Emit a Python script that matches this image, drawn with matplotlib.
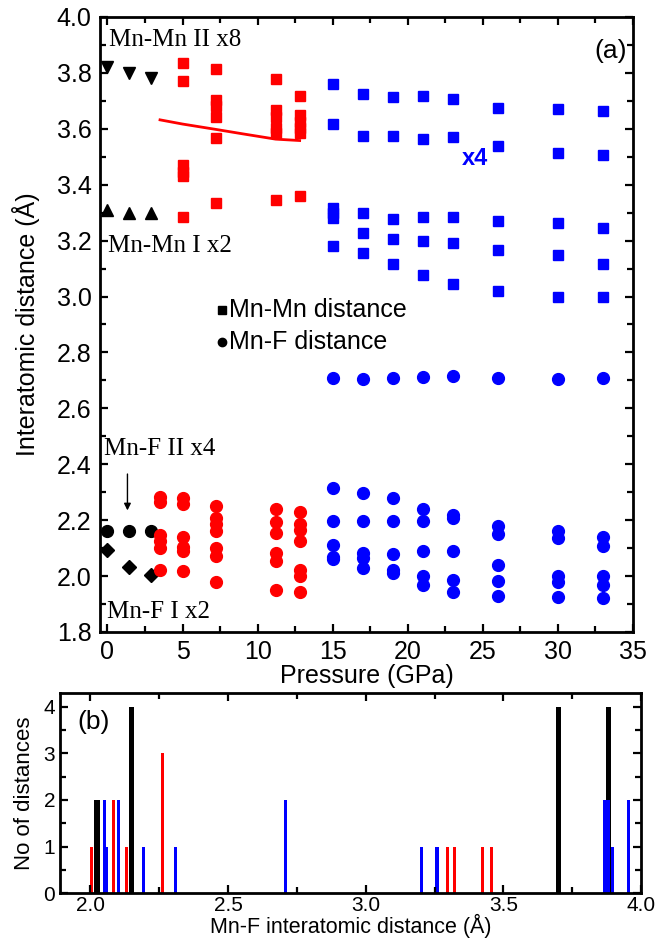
import numpy as np
import matplotlib
matplotlib.use('Agg')
import matplotlib.pyplot as plt
from matplotlib.ticker import MultipleLocator, FormatStrFormatter

plt.rcParams['font.family'] = ['Liberation Sans', 'DejaVu Sans']

# ---- panel (a) data ----
p_black = [0.0, 1.4, 2.9]
mnmn2_black = [3.82, 3.80, 3.78]
mnmn1_black = [3.31, 3.30, 3.30]
mnf2_black = [2.16, 2.16, 2.16]
mnf1_black = [2.095, 2.032, 2.003]

p_red_sq = [5.0, 7.2, 11.2, 12.8]
mnmn_red = [
    [3.835, 3.77, 3.47, 3.445, 3.43, 3.283],
    [3.814, 3.703, 3.682, 3.643, 3.566, 3.333],
    [3.777, 3.667, 3.643, 3.602, 3.584, 3.345],
    [3.717, 3.649, 3.625, 3.602, 3.584, 3.359],
]
p_red_line = [3.5, 5.0, 7.2, 9.0, 11.2, 12.8]
line_red = [3.632, 3.617, 3.598, 3.582, 3.563, 3.558]

p_red_ci = [3.5, 5.0, 7.2, 11.2, 12.8]
mnf_red = [
    [2.284, 2.266, 2.147, 2.124, 2.101, 2.021],
    [2.281, 2.258, 2.141, 2.105, 2.091, 2.019],
    [2.252, 2.209, 2.188, 2.161, 2.101, 2.073, 1.980],
    [2.240, 2.192, 2.153, 2.083, 2.055, 1.952],
    [2.230, 2.188, 2.165, 2.124, 2.023, 2.000, 1.942],
]

p_blue = [15, 17, 19, 21, 23, 26, 30, 33]
mnmn_blue = [
    [3.760, 3.616, 3.316, 3.298, 3.280, 3.181],
    [3.723, 3.574, 3.298, 3.226, 3.157],
    [3.715, 3.574, 3.277, 3.207, 3.116],
    [3.718, 3.565, 3.286, 3.197, 3.077],
    [3.707, 3.570, 3.286, 3.191, 3.044],
    [3.676, 3.537, 3.269, 3.166, 3.018],
    [3.670, 3.515, 3.263, 3.148, 2.998],
    [3.665, 3.506, 3.246, 3.116, 2.998],
]
mnf_blue = [
    [2.707, 2.314, 2.198, 2.111, 2.068, 2.060],
    [2.704, 2.298, 2.198, 2.083, 2.063, 2.030],
    [2.707, 2.280, 2.198, 2.079, 2.021, 2.010],
    [2.713, 2.240, 2.198, 2.089, 2.001, 1.968],
    [2.715, 2.218, 2.206, 2.089, 1.986, 1.942],
    [2.707, 2.180, 2.149, 2.039, 1.983, 1.930],
    [2.706, 2.161, 2.137, 2.000, 1.980, 1.926],
    [2.707, 2.141, 2.108, 2.000, 1.968, 1.920],
]

# ---- panel (b) data ----
black_pos = [2.024, 2.150, 3.701, 3.882]
black_cnt = [2, 4, 4, 4]
red_pos = [2.006, 2.085, 2.130, 2.262, 3.296, 3.322, 3.423, 3.457]
red_cnt = [1, 2, 1, 3, 1, 1, 1, 1]
blue_pos = [2.051, 2.059, 2.103, 2.192, 2.308, 2.708, 3.201, 3.259, 3.866, 3.880, 3.897, 3.956]
blue_cnt = [2, 1, 2, 1, 1, 2, 1, 1, 2, 2, 1, 2]

BLUE = '#0000ff'
RED = '#ff0000'

fig = plt.figure(figsize=(6.56, 9.43), dpi=100)
ax = fig.add_axes([0.1524, 0.3298, 0.8125, 0.6522])
ax2 = fig.add_axes([0.0915, 0.0530, 0.8857, 0.2121])


def style(a, size):
    for s in a.spines.values():
        s.set_linewidth(2)
    a.tick_params(which='both', direction='in', top=True, right=True,
                  width=1.6, labelsize=size)
    a.tick_params(which='major', length=6)
    a.tick_params(which='minor', length=4)


# panel (a)
ms_sq = 7.5
ms_ci = 8.5
ax.plot(p_black, mnmn2_black, 'v', color='k', ms=8.5, ls='none')
ax.plot(p_black, mnmn1_black, '^', color='k', ms=8.5, ls='none')
ax.plot(p_black, mnf2_black, 'o', color='k', ms=ms_ci, ls='none')
ax.plot(p_black, mnf1_black, 'D', color='k', ms=7, ls='none')

for p, vals in zip(p_red_sq, mnmn_red):
    ax.plot([p] * len(vals), vals, 's', color=RED, ms=ms_sq, ls='none')
for p, vals in zip(p_red_ci, mnf_red):
    ax.plot([p] * len(vals), vals, 'o', color=RED, ms=ms_ci, ls='none')
ax.plot(p_red_line, line_red, '-', color=RED, lw=2)

for p, vals in zip(p_blue, mnmn_blue):
    ax.plot([p] * len(vals), vals, 's', color=BLUE, ms=ms_sq, ls='none')
for p, vals in zip(p_blue, mnf_blue):
    ax.plot([p] * len(vals), vals, 'o', color=BLUE, ms=ms_ci, ls='none')

ax.set_xlim(-0.5, 35)
ax.set_ylim(1.8, 4.0)
ax.xaxis.set_major_locator(MultipleLocator(5))
ax.xaxis.set_minor_locator(MultipleLocator(2.5))
ax.yaxis.set_major_locator(MultipleLocator(0.2))
ax.yaxis.set_minor_locator(MultipleLocator(0.1))
ax.yaxis.set_major_formatter(FormatStrFormatter('%.1f'))
style(ax, 18)
ax.tick_params(axis='y', pad=6)
ax.tick_params(axis='x', pad=6)
ax.set_xlabel('Pressure (GPa)', fontsize=18, labelpad=0)
ax.set_ylabel('Interatomic distance (Å)', fontsize=18, labelpad=12)

serif = ['Liberation Serif', 'DejaVu Serif']
ax.text(0.1, 3.918, 'Mn-Mn II x8', family=serif, fontsize=18, va='center')
ax.text(0.05, 3.18, 'Mn-Mn I x2', family=serif, fontsize=18, va='center')
ax.text(-0.2, 2.454, 'Mn-F II x4', family=serif, fontsize=18, va='center')
ax.text(0.0, 1.871, 'Mn-F I x2', family=serif, fontsize=18, va='center')
ax.annotate('', xy=(1.33, 2.225), xytext=(1.33, 2.375),
            arrowprops=dict(arrowstyle='-|>', color='k', lw=1, mutation_scale=10))
ax.text(23.6, 3.495, 'x4', color=BLUE, fontsize=17, fontweight='bold', va='center')
ax.text(34.6, 3.878, '(a)', fontsize=19, ha='right', va='center')

ax.plot([7.6], [2.952], 's', color='k', ms=6)
ax.text(8.1, 2.952, 'Mn-Mn distance', fontsize=18, va='center')
ax.plot([7.6], [2.838], 'o', color='k', ms=6)
ax.text(8.1, 2.838, 'Mn-F distance', fontsize=18, va='center')

# panel (b)
ax2.bar(black_pos, black_cnt, width=0.02, color='k')
ax2.bar(red_pos, red_cnt, width=0.011, color=RED)
ax2.bar(blue_pos, blue_cnt, width=0.011, color=BLUE)
ax2.set_xlim(1.89, 4.0)
ax2.set_ylim(0, 4.3)
ax2.xaxis.set_major_locator(MultipleLocator(0.5))
ax2.xaxis.set_minor_locator(MultipleLocator(0.25))
ax2.yaxis.set_major_locator(MultipleLocator(1))
ax2.yaxis.set_minor_locator(MultipleLocator(0.5))
ax2.xaxis.set_major_formatter(FormatStrFormatter('%.1f'))
style(ax2, 15)
ax2.tick_params(axis='x', pad=2)
ax2.set_xlabel('Mn-F interatomic distance (Å)', fontsize=15.5, labelpad=-1)
ax2.set_ylabel('No of distances', fontsize=16, labelpad=6)
ax2.text(1.953, 3.68, '(b)', fontsize=19, va='center')

fig.savefig('out.png', dpi=100)
